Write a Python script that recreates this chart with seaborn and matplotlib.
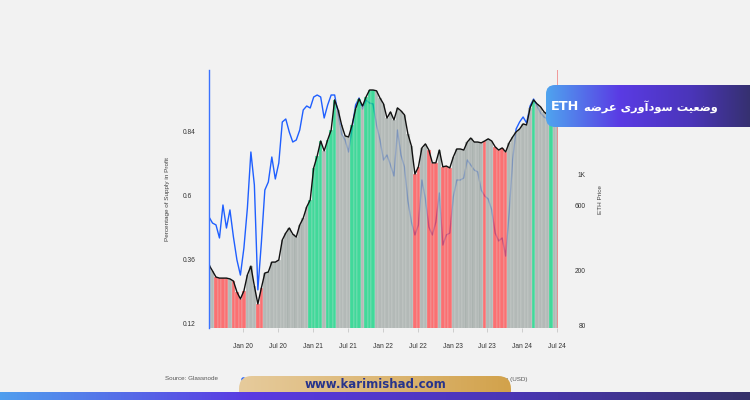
import numpy as np
import pandas as pd
import matplotlib
matplotlib.use("Agg")
import matplotlib.pyplot as plt
import seaborn as sns
from matplotlib.patches import FancyBboxPatch
from matplotlib.colors import LinearSegmentedColormap

# ---- data (about every 18 days, Jul 2019 - Jul 2024) ----
dates = pd.date_range("2019-07-05", "2024-07-05", periods=101)

supply_in_profit = [
    0.341, 0.319, 0.296, 0.292, 0.292, 0.292, 0.289, 0.281, 0.240, 0.214,
    0.244, 0.304, 0.337, 0.262, 0.195, 0.255, 0.311, 0.315, 0.352, 0.352,
    0.360, 0.435, 0.461, 0.480, 0.457, 0.446, 0.491, 0.517, 0.559, 0.585,
    0.705, 0.750, 0.806, 0.769, 0.810, 0.847, 0.960, 0.922, 0.866, 0.825,
    0.821, 0.866, 0.926, 0.964, 0.937, 0.971, 0.997, 0.997, 0.994, 0.967,
    0.945, 0.892, 0.915, 0.885, 0.930, 0.919, 0.904, 0.832, 0.787, 0.682,
    0.709, 0.780, 0.795, 0.772, 0.724, 0.724, 0.772, 0.709, 0.712, 0.705,
    0.746, 0.776, 0.776, 0.772, 0.802, 0.817, 0.802, 0.802, 0.799, 0.806,
    0.814, 0.806, 0.784, 0.772, 0.780, 0.765, 0.799, 0.821, 0.840, 0.851,
    0.870, 0.866, 0.930, 0.960, 0.945, 0.934, 0.915, 0.904, 0.911, 0.900,
    0.892,
]

eth_price = [
    494, 446, 432, 347, 604, 410, 556, 353, 240, 186,
    293, 574, 1472, 845, 145, 319, 777, 889, 1353, 935,
    1224, 2437, 2563, 2060, 1741, 1800, 2130, 2982, 3189, 3083,
    3710, 3836, 3710, 2607, 3243, 3836, 3836, 2788, 1992, 1800,
    1472, 2203, 3243, 3648, 3032, 3527, 3354, 3298, 2317, 1800,
    1287, 1400, 1183, 983, 2130, 1400, 1144, 646, 454, 365,
    432, 919, 668, 417, 365, 454, 739, 308, 365, 377,
    691, 919, 919, 951, 1287, 1183, 1088, 1052, 777, 703,
    668, 556, 377, 330, 347, 256, 528, 1287, 2167, 2437,
    2651, 2397, 3189, 3587, 3189, 2835, 2651, 2563, 2520, 2479,
    2437,
]

# zone of each bar: n = neutral, r = loss, g = profit
zone_runs = [("n", 2), ("r", 4), ("n", 1), ("r", 4), ("n", 3), ("r", 2),
             ("n", 13), ("g", 4), ("n", 1), ("g", 3), ("n", 4), ("g", 3),
             ("n", 1), ("g", 3), ("n", 11), ("r", 2), ("n", 2), ("r", 3),
             ("n", 1), ("r", 3), ("n", 9), ("r", 1), ("n", 2), ("r", 4),
             ("n", 7), ("g", 1), ("n", 4), ("g", 1), ("n", 2)]
zones = [z for z, k in zone_runs for _ in range(k)]

left_ticks = [0.12, 0.36, 0.6, 0.84]
left_labels = ["0.12", "0.36", "0.6", "0.84"]
right_ticks = [80, 200, 600, 1000]
right_labels = ["80", "200", "600", "1K"]
x_ticks = pd.to_datetime(["2020-01-01", "2020-07-01", "2021-01-01", "2021-07-01",
                          "2022-01-01", "2022-07-01", "2023-01-01", "2023-07-01",
                          "2024-01-01", "2024-07-01"])
x_labels = ["Jan 20", "Jul 20", "Jan 21", "Jul 21", "Jan 22", "Jul 22",
            "Jan 23", "Jul 23", "Jan 24", "Jul 24"]

# Persian title, written in presentation forms, visual order
title_fa = ("\ufeea\ufebf\ufeae\ufecb" + " "
            + "\ufbfc\ufead\ufeed\ufe81\ufea9\ufeee\ufeb3" + " "
            + "\ufe96\ufbff\ufecc\ufebf\ufeed")
title_en = "ETH"

BG = "#f2f2f2"
zone_colors = {"n": "#9ea7a3", "r": "#ff4547", "g": "#05d17d"}

sns.set_theme(style="white")
plt.rcParams["font.family"] = ["Liberation Sans", "DejaVu Sans"]

fig = plt.figure(figsize=(7.5, 4), dpi=100, facecolor=BG)
ax = fig.add_axes([209 / 750, 72 / 400, 349 / 750, 258 / 400])
ax2 = ax.twinx()
ax.set_zorder(3)
ax2.set_zorder(2)
ax.patch.set_visible(False)
ax2.patch.set_visible(False)

# price line sits under the bars so it shows faded behind them
sns.lineplot(x=dates, y=eth_price, ax=ax2, color="#1f5fff", linewidth=1.0)
ax2.set_yscale("log")
ax2.set_ylim(76.4, 5840)
ax2.set_yticks(right_ticks)
ax2.set_yticklabels(right_labels)
ax2.minorticks_off()
ax2.tick_params(axis="y", which="both", length=0, pad=20, labelsize=4.8,
                labelcolor="#333333")
for lbl in ax2.get_yticklabels():
    lbl.set_horizontalalignment("right")
ax2.set_ylabel("ETH Price", fontsize=4.6, color="#444444", rotation=90)
ax2.yaxis.set_label_coords(1.115, 0.496)

step = (dates[1] - dates[0]).total_seconds() / 86400
ax.bar(dates, supply_in_profit, width=step * 1.02,
       color=[zone_colors[z] for z in zones], alpha=0.75,
       edgecolor="#dfe3e1", linewidth=0.25)
sns.lineplot(x=dates, y=supply_in_profit, ax=ax, color="#111111", linewidth=1.0)
ax.axvline(dates[-1], color="#f08a8a", linewidth=1.2)

ax.set_xlim(dates[0], dates[-1])
ax.set_ylim(0.105, 1.072)
ax.set_yticks(left_ticks)
ax.set_yticklabels(left_labels)
ax.tick_params(axis="y", length=0, pad=19, labelsize=4.8, labelcolor="#333333")
for lbl in ax.get_yticklabels():
    lbl.set_horizontalalignment("left")
ax.set_xticks(x_ticks)
ax.set_xticklabels(x_labels)
ax.tick_params(axis="x", bottom=True, length=3, width=0.6, color="#c8c8c8",
               pad=8, labelsize=4.8, labelcolor="#333333")
ax.set_ylabel("Percentage of Supply in Profit", fontsize=4.6, color="#444444")
ax.yaxis.set_label_coords(-0.112, 0.5)
ax.set_xlabel("")
for name, sp in ax.spines.items():
    sp.set_visible(name == "left")
ax.spines["left"].set_color("#3a72ff")
ax.spines["left"].set_linewidth(1.0)
for sp in ax2.spines.values():
    sp.set_visible(False)

# ---- overlay: banner, legend remnants, footer ----
ov = fig.add_axes([0, 0, 1, 1], zorder=10)
ov.patch.set_visible(False)


def gradient_box(x0, y0, w, h, colors, r, z):
    cmap = LinearSegmentedColormap.from_list("grad", colors)
    img = ov.imshow(np.linspace(0, 1, 256)[None, :], cmap=cmap,
                    extent=(x0, x0 + w, y0 + h, y0), aspect="auto", zorder=z)
    box = FancyBboxPatch((x0, y0), w, h, boxstyle=f"round,pad=0,rounding_size={r}",
                         facecolor="none", edgecolor="none", zorder=z)
    ov.add_patch(box)
    img.set_clip_path(box)


ov.text(165, 379, "Source: Glassnode", fontsize=4.5, color="#555555", va="center")
ov.scatter([243], [379], s=5, color="#1f5fff", zorder=2)
ov.text(528, 379, "ETH Price (USD)", fontsize=4.5, color="#555555", va="center",
        ha="right", zorder=2)

gradient_box(239, 376, 272, 28, ["#e6cb9c", "#ddb877", "#d2a24b"], 13, 3)
ov.text(375, 385, "www.karimishad.com", fontsize=8.5, fontweight="bold",
        color="#27348b", ha="center", va="center", zorder=4,
        family=["DejaVu Sans"])
gradient_box(-20, 392, 800, 20, ["#4fa6ef", "#5a3ae2", "#4a36b4", "#33305f"], 0.1, 5)

gradient_box(546, 85, 220, 42, ["#4fa4ef", "#5a3be4", "#4a35b8", "#302f5c"], 9, 6)
ov.set_xlim(0, 750)
ov.set_ylim(400, 0)
ov.axis("off")

fa_txt = ov.text(718, 107, title_fa, fontsize=8.2, fontweight="bold", color="white",
                 ha="right", va="center", zorder=7, family=["DejaVu Sans"])
fig.canvas.draw()
fa_left = fa_txt.get_window_extent().x0
ov.text(fa_left - 5, 106.5, title_en, fontsize=9.3, fontweight="bold", color="white",
        ha="right", va="center", zorder=7, family=["DejaVu Sans"])

fig.savefig("out.png", dpi=100, facecolor=BG)
